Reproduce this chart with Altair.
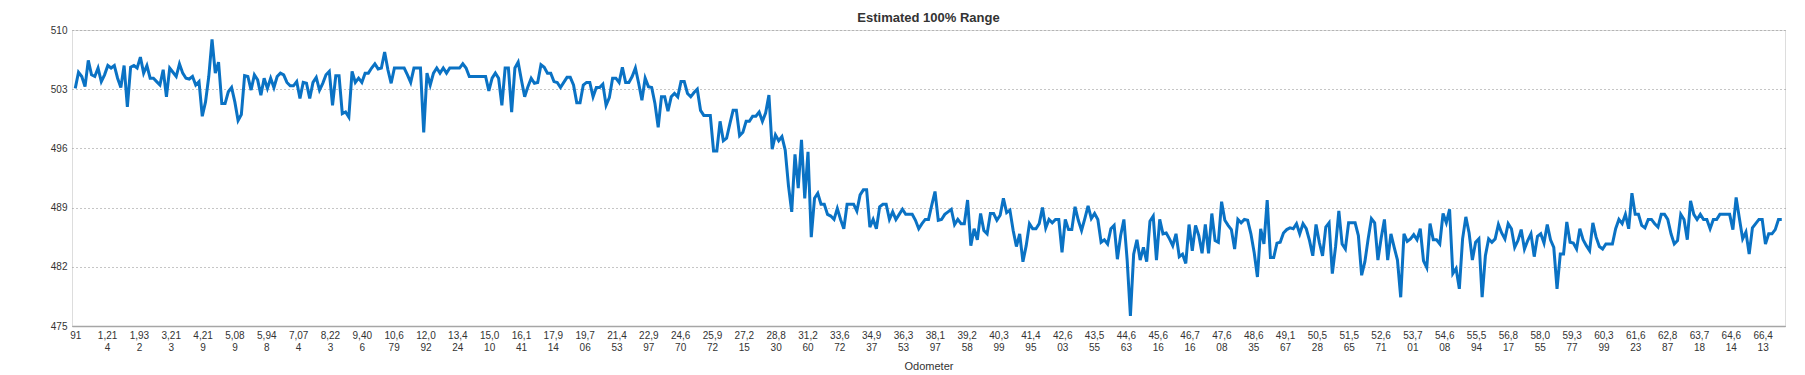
import json
import altair as alt
import pandas as pd

# Estimated 100% range readings, in order of increasing odometer
seg1 = [503.1, 505.0, 504.5, 503.3, 506.4, 504.7, 504.5, 505.5, 503.9, 504.7,
        505.8, 505.5, 505.8, 504.3, 503.2, 505.8, 500.9, 505.6, 505.8, 505.5,
        506.8, 504.9, 505.8, 504.3, 504.3, 503.9, 503.5, 505.3, 502.1, 505.5,
        505.0, 504.5, 506.0, 504.9, 504.3, 504.2, 504.5, 503.5, 503.9, 499.8,
        501.5, 504.5, 508.9, 504.9, 506.2, 501.3, 501.3, 502.7, 503.2, 501.5,
        499.3, 500.0, 504.6, 504.5, 502.9, 504.7, 504.1, 502.3, 504.3, 503.1,
        504.3, 503.2, 504.5, 504.9, 504.7, 503.8, 503.4, 503.4, 503.9, 501.9,
        503.8, 503.7, 501.9, 503.8, 504.4, 502.9, 503.7, 504.7, 505.1, 501.1,
        504.6, 504.6, 500.1, 500.3, 499.7, 505.1, 503.8, 504.3, 503.8]
seg2 = [504.9, 504.9, 505.5, 506.0, 505.4, 505.5, 507.4, 505.3, 503.7, 505.5,
        505.5, 505.5, 505.5, 504.7, 503.8, 505.5, 505.5, 505.5, 497.9, 504.9,
        503.5, 504.9, 505.5, 504.9, 505.5, 504.9, 505.5, 505.5, 505.5, 505.5,
        506.0, 505.5, 504.5, 504.5, 504.5, 504.5, 504.5, 504.5, 502.8, 504.3,
        504.9, 504.3, 501.1, 505.5, 505.5, 500.3, 505.5, 506.2, 504.1, 502.1,
        503.3, 504.3, 503.7, 503.8, 505.9, 505.6, 504.9, 504.9, 503.9, 503.8,
        503.2, 503.8, 504.4, 504.4, 503.5, 501.4, 501.4, 503.5, 503.8, 503.8,
        502.1, 503.2, 503.2, 503.6, 501.1, 502.0, 504.3, 504.3, 503.8, 505.6,
        503.8, 503.8, 504.5, 505.5, 503.7, 501.7, 504.3]
seg3 = [503.3, 503.2, 501.3, 498.5, 502.1, 502.1, 500.4, 502.1, 502.5, 502.1,
        503.9, 503.9, 502.5, 502.1, 502.6, 503.0, 500.5, 499.9, 499.9, 499.9,
        495.7, 495.7, 499.2, 496.9, 497.2, 498.9, 500.5, 500.5, 497.5, 497.9,
        499.2, 499.2, 499.8, 499.8, 500.3, 499.2, 500.2, 502.3, 495.9, 497.6,
        496.9, 497.4, 495.8, 491.6, 488.5, 495.3, 491.3, 497.0, 490.1, 495.6,
        485.5, 490.1, 490.7, 489.4, 489.4, 488.2, 488.0, 487.6, 488.9, 487.6,
        486.5, 489.4, 489.4, 489.4, 488.6, 490.5, 491.1, 491.1, 486.7, 487.6,
        486.5, 489.1, 489.4, 489.4, 487.6, 488.5, 487.6, 488.2, 488.8, 488.2,
        488.2, 488.2, 487.5, 486.5, 487.1, 487.6, 487.6, 489.3]
seg4 = [490.9, 487.5, 487.6, 488.2, 488.5, 488.8, 487.0, 487.6, 487.1, 487.1,
        489.9, 484.5, 486.5, 485.2, 488.3, 486.3, 485.9, 488.3, 488.3, 487.5,
        488.1, 490.1, 488.4, 488.7, 486.3, 484.4, 485.9, 482.6, 484.5, 487.1,
        486.5, 486.5, 487.1, 489.0, 486.6, 487.6, 487.2, 487.6, 487.6, 483.7,
        487.6, 486.4, 486.4, 489.1, 487.5, 486.3, 487.7, 489.2, 487.7, 488.3,
        487.6, 484.9, 485.2, 484.7, 486.5, 486.9, 482.9, 485.7, 487.6, 482.8,
        476.2, 483.5, 485.2, 482.8, 484.3, 482.6, 487.4, 488.0, 482.8, 487.6,
        485.9, 486.0, 485.3, 484.5, 485.9, 483.2, 483.5, 482.4, 487.0, 483.9,
        486.9, 485.7, 483.6, 487.0, 483.6, 488.3, 485.1, 484.9]
seg5 = [489.7, 487.5, 486.9, 486.4, 484.1, 487.6, 487.2, 487.6, 487.5, 485.9,
        483.7, 480.8, 486.5, 484.7, 489.9, 483.1, 483.1, 484.8, 484.9, 486.0,
        486.4, 486.6, 486.5, 487.1, 485.9, 487.1, 486.5, 485.1, 483.3, 487.0,
        484.9, 483.3, 486.7, 487.2, 481.2, 484.4, 488.6, 484.7, 484.1, 487.2,
        487.2, 487.2, 485.7, 481.0, 482.6, 485.3, 487.7, 487.2, 482.8, 485.4,
        487.6, 482.8, 485.9, 484.3, 482.8, 478.4, 485.9, 485.0, 485.3, 485.8,
        485.2, 486.5, 482.7, 481.9, 487.1, 485.2, 485.2, 484.7, 488.3, 487.2,
        488.8, 481.2, 481.8, 479.4, 485.3, 487.9, 486.0, 482.8, 484.9, 485.3,
        478.4, 483.3, 485.3, 484.9, 485.3, 487.0, 486.0, 485.3, 487.1]
seg6 = [486.5, 484.3, 485.1, 486.4, 484.1, 485.1, 485.9, 483.2, 485.6, 485.9,
        484.8, 487.0, 485.2, 484.3, 479.4, 483.5, 483.5, 487.3, 484.9, 484.8,
        484.1, 486.5, 485.2, 484.5, 483.9, 487.2, 485.5, 484.4, 484.1, 484.7,
        484.7, 484.7, 486.5, 487.6, 487.1, 488.2, 486.5, 490.7, 488.2, 488.2,
        486.9, 486.6, 487.6, 487.6, 487.1, 486.7, 488.2, 488.2, 487.6, 485.9,
        484.7, 485.1, 488.2, 487.6, 485.2, 489.8, 488.2, 487.6, 488.2, 487.6,
        487.6, 486.5, 487.6, 487.6, 488.2, 488.2, 488.2, 488.2, 486.4, 490.2,
        487.7, 485.3, 486.1, 483.5, 486.6, 487.1, 487.6, 487.6, 484.7, 485.9,
        485.9, 486.4, 487.6, 487.6]

# Odometer values shown as x tick labels
odometer_labels = [91, 1214, 1932, 3213, 4219, 5089, 5948, 7074, 8223, 9406,
                   10679, 12092, 13424, 15010, 16141, 17914, 19706, 21453, 22997, 24670,
                   25972, 27215, 28830, 31260, 33672, 34937, 36353, 38197, 39258, 40399,
                   41495, 42603, 43555, 44663, 45616, 46716, 47608, 48635, 49167, 50528,
                   51565, 52671, 53701, 54608, 55594, 56817, 58055, 59377, 60399, 61623,
                   62887, 63718, 64614, 66413]
y_ticks = [475, 482, 489, 496, 503, 510]

values = seg1 + seg2 + seg3 + seg4 + seg5 + seg6
N = len(values)
df = pd.DataFrame({"i": list(range(N)), "v": values})

# one labelled reading out of every `step`
step = (N - 1) / 53.6
tick_vals = [k * step for k in range(len(odometer_labels))]
lab_str = [f"{o:,}" for o in odometer_labels]
first = json.dumps([s[:4] for s in lab_str])
second = json.dumps([s[4:] for s in lab_str])
idx = f"round(datum.value / {step})"
label_expr = f"[{first}[{idx}], {second}[{idx}]]"

FONT = "Liberation Sans"

chart = alt.Chart(df).mark_line(color="#0a72c4", strokeWidth=3).encode(
    x=alt.X("i:Q",
            scale=alt.Scale(domain=[-1, N], nice=False, zero=False),
            axis=alt.Axis(values=tick_vals, labelExpr=label_expr, grid=False,
                          ticks=False, domainColor="#a6a6a6", domainWidth=1.5,
                          labelFont=FONT, labelFontSize=10, labelColor="#333333",
                          labelLineHeight=12, labelPadding=4, labelBaseline="top",
                          labelOverlap=False, labelFlush=False,
                          title="Odometer", titleFont=FONT, titleFontSize=11,
                          titleFontWeight="normal", titleColor="#333333",
                          titlePadding=8)),
    y=alt.Y("v:Q",
            scale=alt.Scale(domain=[475, 510], nice=False, zero=False),
            axis=alt.Axis(values=y_ticks, title=None, ticks=False, domain=False,
                          gridColor="#8c8c8c", gridDash=[1, 3], gridWidth=1,
                          labelFont=FONT, labelFontSize=10, labelColor="#333333",
                          labelPadding=5)),
).properties(
    width=1713, height=296,
    padding={"left": 64, "top": 22, "right": 12, "bottom": 49},
    autosize="none",
    title=alt.TitleParams("Estimated 100% Range", font=FONT, fontSize=13,
                          fontWeight="bold", color="#333333", anchor="middle",
                          offset=0),
).configure_view(stroke=None).configure(background="white")

chart.save("out.html", embed_options={"renderer": "svg", "actions": False})
